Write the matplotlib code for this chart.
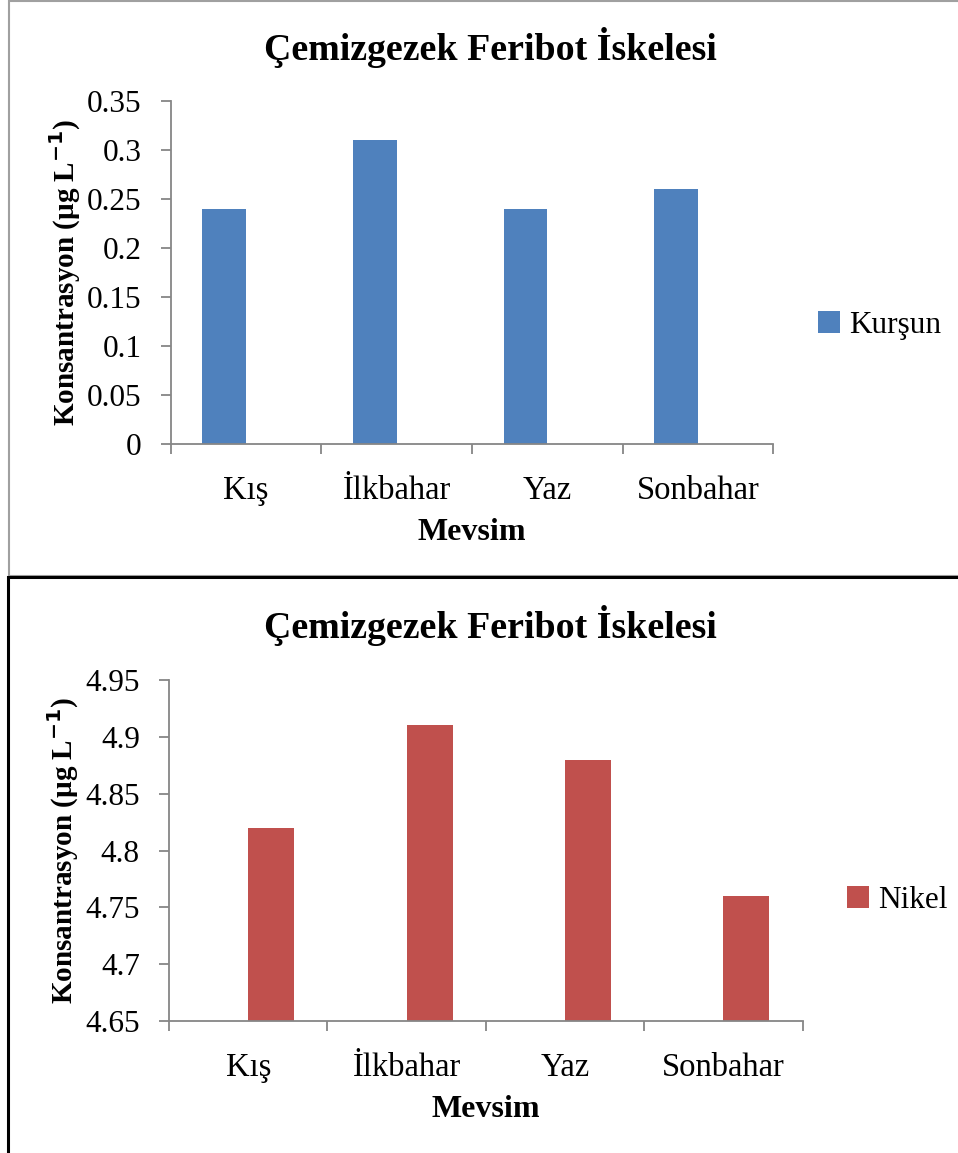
import numpy as np
import matplotlib.pyplot as plt
from matplotlib.patches import Rectangle
from matplotlib.ticker import FuncFormatter

seasons = ["Kış", "İlkbahar", "Yaz", "Sonbahar"]
lead = [0.24, 0.31, 0.24, 0.26]      # Kurşun
nickel = [4.82, 4.91, 4.88, 4.76]    # Nikel
title = "Çemizgezek Feribot İskelesi"

plt.rcParams['font.family'] = ['Liberation Serif', 'DejaVu Serif']
W, H = 958, 1153
fig = plt.figure(figsize=(W / 100, H / 100), dpi=100)

grey = '#868686'


def fx(px):
    return px / W


def fy(px):
    return 1 - px / H


def style(ax, ymin, ymax, step):
    for s in ['top', 'right']:
        ax.spines[s].set_visible(False)
    for s in ['left', 'bottom']:
        ax.spines[s].set_color(grey)
        ax.spines[s].set_linewidth(1.3)
    ax.set_xlim(-0.5, len(seasons) - 0.5)
    ax.set_ylim(ymin, ymax)
    ax.set_yticks(np.round(np.arange(ymin, ymax + step / 2, step), 2))
    ax.yaxis.set_major_formatter(FuncFormatter(lambda v, p: ('%g' % round(v, 2))))
    ax.set_xticks(np.arange(-0.5, len(seasons), 1.0))
    ax.set_xticklabels([])
    ax.set_xticks(np.arange(len(seasons)), minor=True)
    ax.set_xticklabels(seasons, minor=True)
    ax.tick_params(axis='x', which='major', direction='out', length=7, width=1.3, color=grey)
    ax.tick_params(axis='x', which='minor', length=0, pad=23, labelsize=23.5)
    ax.tick_params(axis='y', direction='out', length=7, width=1.3, color=grey,
                   labelsize=22.5, pad=14)
    ax.set_xlabel("Mevsim", fontsize=23, fontweight='bold', labelpad=8)
    ax.set_ylabel("Konsantrasyon (µg L$^{\\mathbf{-1}}$)", fontsize=21, fontweight='bold',
                  labelpad=3)


# panel frames
fig.patches.append(Rectangle((fx(9), fy(576)), 1.2, fy(1) - fy(576), transform=fig.transFigure,
                             fill=False, edgecolor='#a0a0a0', linewidth=1.5))
fig.patches.append(Rectangle((fx(8), fy(1200)), 1.2, fy(577) - fy(1200), transform=fig.transFigure,
                             fill=False, edgecolor='black', linewidth=2.2))

x = np.arange(len(seasons))

# top chart
ax1 = fig.add_axes([fx(170.7), fy(444), fx(773.3) - fx(170.7), fy(101) - fy(444)])
ax1.bar(x, lead, width=-0.29, align='edge', color='#4F81BD', label='Kurşun')
style(ax1, 0, 0.35, 0.05)
fig.text(fx(490), fy(48), title, fontsize=27.3, fontweight='bold', ha='center', va='center')
ax1.legend(loc='center left', bbox_to_anchor=(fx(790), fy(325)), bbox_transform=fig.transFigure,
           frameon=False, fontsize=22.5, handlelength=0.7, handleheight=0.7, handletextpad=0.3)

# bottom chart
ax2 = fig.add_axes([fx(169), fy(1021), fx(802.7) - fx(169), fy(680) - fy(1021)])
ax2.bar(x, nickel, width=0.29, align='edge', color='#C0504D', label='Nikel')
style(ax2, 4.65, 4.95, 0.05)
fig.text(fx(490), fy(625), title, fontsize=27.3, fontweight='bold', ha='center', va='center')
ax2.legend(loc='center left', bbox_to_anchor=(fx(819), fy(900)), bbox_transform=fig.transFigure,
           frameon=False, fontsize=22.5, handlelength=0.7, handleheight=0.7, handletextpad=0.3)

fig.savefig('out.png', dpi=100)
